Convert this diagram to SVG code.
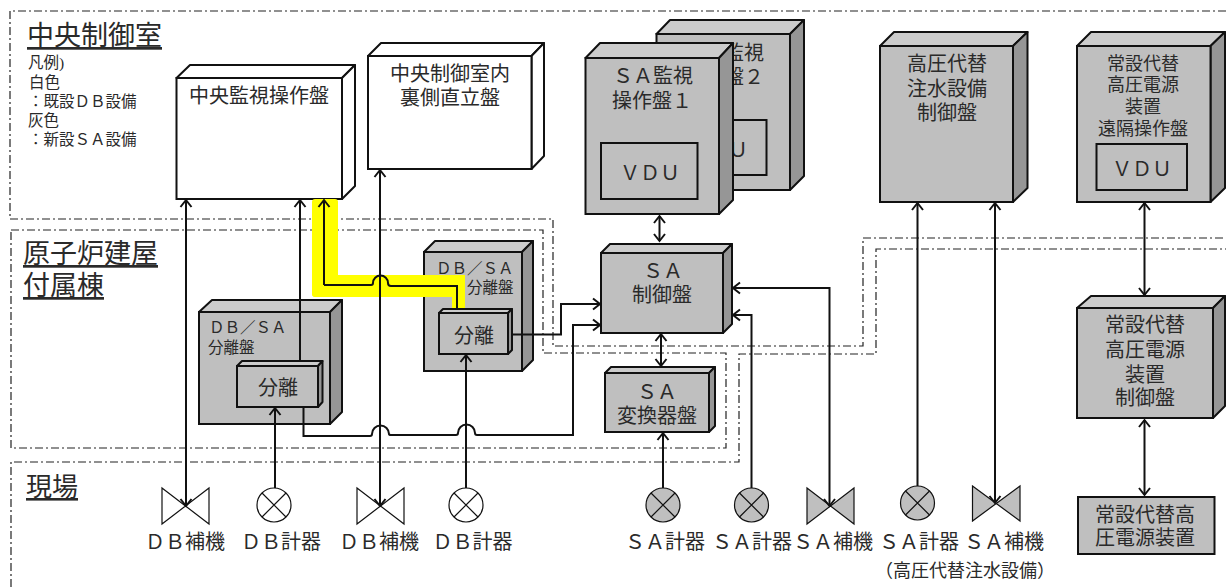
<svg xmlns="http://www.w3.org/2000/svg" width="1226" height="587" viewBox="0 0 1226 587">
<style>
text{font-family:"Liberation Serif","Noto Sans CJK JP",serif;fill:#2a2a2a;font-size:20px;text-anchor:middle}
.l{text-anchor:start}
.t{font-size:27px;text-anchor:start;text-decoration:underline}
.s{font-size:15.5px;text-anchor:start}
.m{font-size:15.5px;text-anchor:start}
.n{font-size:18px}
.f{fill:#bfbfbf;stroke:#111;stroke-width:2}
.u{fill:#cccccc;stroke:#111;stroke-width:2;stroke-linejoin:round}
.d{fill:#969696;stroke:#111;stroke-width:2;stroke-linejoin:round}
.w .f,.w .u,.w .d{fill:#fff}
.b{fill:none;stroke:#222;stroke-width:1.2;stroke-dasharray:8 3 2 3}
.c{fill:none;stroke:#111;stroke-width:2}
.a{marker-end:url(#h)}
.aa{marker-end:url(#h);marker-start:url(#h)}
.v{stroke:#111;stroke-width:1.2}
.wv{fill:#fff}.gv{fill:#bfbfbf}
.y{fill:#ffff00}
</style>
<defs>
<marker id="h" markerUnits="userSpaceOnUse" markerWidth="12" markerHeight="14" refX="9" refY="7" orient="auto-start-reverse">
<path d="M2 1.5L9 7L2 12.5" fill="none" stroke="#111" stroke-width="2"/>
</marker>
</defs>
<g id="boundaries">
<path class="b" d="M1226 11H10V219H553V346H863V238H1226"/>
<path class="b" d="M11 230H543V353H726V448H11Z"/>
<path class="b" d="M11 587V462H739V354H876V249H1226"/>
</g>
<g id="labels">
<text class="t" x="27" y="45">中央制御室</text>
<text class="t" x="23" y="263">原子炉建屋</text>
<text class="t" x="23" y="295">付属棟</text>
<text class="t" x="26" y="496" style="font-size:26px">現場</text>
</g>
<g id="legend">
<text class="s" x="28" y="68">凡例)</text>
<text class="s" x="29" y="88">白色</text>
<text class="s" x="28" y="107">：既設ＤＢ設備</text>
<text class="s" x="28" y="126">灰色</text>
<text class="s" x="28" y="145">：新設ＳＡ設備</text>
</g>
<g id="node-central" class="w">
<polygon class="u" points="176.500,78 190,65 355,65 342,78"/>
<polygon class="d" points="342,78 355,65 355,186 342,199"/>
<rect class="f" x="176.500" y="78" width="165.500" height="121"/>
<text x="259" y="103">中央監視操作盤</text>
</g>
<g id="node-rear" class="w">
<polygon class="u" points="368,56 381,43 544,43 531.500,56"/>
<polygon class="d" points="531.500,56 544,43 544,156 531.500,169"/>
<rect class="f" x="368" y="56" width="163.500" height="113"/>
<text x="450" y="81">中央制御室内</text>
<text x="450" y="105">裏側直立盤</text>
</g>
<g id="node-sa2">
<polygon class="u" points="656.500,34 670,20 804,20 790,34"/>
<polygon class="d" points="790,34 804,20 804,176 790,190"/>
<rect class="f" x="656.500" y="34" width="133.500" height="156"/>
<text x="724" y="60">ＳＡ監視</text>
<text x="724" y="84">操作盤２</text>
<rect class="f" x="670" y="120" width="96.500" height="55"/>
<text x="718" y="157">ＶＤＵ</text>
</g>
<g id="node-sa1">
<polygon class="u" points="585.500,58 600,43 733,43 719,58"/>
<polygon class="d" points="719,58 733,43 733,200 719,214"/>
<rect class="f" x="585.500" y="58" width="133.500" height="156"/>
<text x="653" y="83">ＳＡ監視</text>
<text x="652" y="108">操作盤１</text>
<rect class="f" x="601" y="143" width="96.500" height="56"/>
<text x="650" y="180">ＶＤＵ</text>
</g>
<g id="node-hp">
<polygon class="u" points="880,46 894,32 1027.500,32 1013,46"/>
<polygon class="d" points="1013,46 1027.500,32 1027.500,188 1013,202"/>
<rect class="f" x="880" y="46" width="133" height="156"/>
<text x="947" y="71">高圧代替</text>
<text x="947" y="96">注水設備</text>
<text x="947" y="120">制御盤</text>
</g>
<g id="node-remote">
<polygon class="u" points="1077,46 1091,32 1225,32 1210.500,46"/>
<polygon class="d" points="1210.500,46 1225,32 1225,188 1210.500,202"/>
<rect class="f" x="1077" y="46" width="133.500" height="156"/>
<text class="n" x="1143" y="69.500">常設代替</text>
<text class="n" x="1143" y="90.500">高圧電源</text>
<text class="n" x="1143" y="112.500">装置</text>
<text class="n" x="1143" y="134.500">遠隔操作盤</text>
<rect class="f" x="1096.500" y="144" width="90.500" height="46"/>
<text x="1142" y="176">ＶＤＵ</text>
</g>
<g id="node-sa-ctrl">
<polygon class="u" points="601,253 610,244 732,244 723,253"/>
<polygon class="d" points="723,253 732,244 732,324 723,333"/>
<rect class="f" x="601" y="253" width="122" height="80"/>
<text x="663" y="278">ＳＡ</text>
<text x="662" y="302">制御盤</text>
</g>
<g id="node-sa-conv">
<polygon class="u" points="605,373 611,367 715,367 709,373"/>
<polygon class="d" points="709,373 715,367 715,426 709,432"/>
<rect class="f" x="605" y="373" width="104" height="59"/>
<text x="657" y="399">ＳＡ</text>
<text x="657" y="423">変換器盤</text>
</g>
<g id="node-dbsa1">
<polygon class="u" points="199,312 212,300 342,300 330,312"/>
<polygon class="d" points="330,312 342,300 342,412 330,424"/>
<rect class="f" x="199" y="312" width="131" height="112"/>
<text class="m" x="209" y="333">ＤＢ／ＳＡ</text>
<text class="m" x="208" y="352.500">分離盤</text>
</g>
<g id="node-sep1">
<polygon class="u" points="237,366 242,361 322.500,361 318,366"/>
<polygon class="d" points="318,366 322.500,361 322.500,402 318,407"/>
<rect class="f" x="237" y="366" width="81" height="41"/>
<text x="278" y="395">分離</text>
</g>
<g id="node-dbsa2">
<polygon class="u" points="424,252 435,241 533,241 522,252"/>
<polygon class="d" points="522,252 533,241 533,360 522,371"/>
<rect class="f" x="424" y="252" width="98" height="119"/>
<text class="m" x="436" y="273.500">ＤＢ／ＳＡ</text>
<text class="m" x="467" y="292.500">分離盤</text>
</g>
<g id="highlight">
<rect class="y" x="312" y="199" width="26" height="98" rx="3"/>
<rect class="y" x="312" y="275" width="153" height="22" rx="4"/>
<rect class="y" x="452" y="275" width="13" height="35"/>
</g>
<g id="node-sep2">
<polygon class="u" points="439,313 443,309 512,309 508,313"/>
<polygon class="d" points="508,313 512,309 512,350 508,354"/>
<rect class="f" x="439" y="313" width="69" height="41"/>
<text x="474" y="343">分離</text>
</g>
<g id="node-ctrl">
<polygon class="u" points="1077,308 1091,296 1225,296 1213,308"/>
<polygon class="d" points="1213,308 1225,296 1225,406 1213,418"/>
<rect class="f" x="1077" y="308" width="136" height="110"/>
<text x="1145" y="332">常設代替</text>
<text x="1145" y="357">高圧電源</text>
<text x="1145" y="382">装置</text>
<text x="1145" y="405">制御盤</text>
</g>
<g id="node-power">
<rect class="f" x="1078" y="497" width="136.500" height="57"/>
<text x="1145" y="522">常設代替高</text>
<text x="1145" y="545">圧電源装置</text>
</g>
<g id="field-devices">
<polygon class="v wv" points="162,488 209,524 209,488 162,524"/>
<ellipse class="v wv" cx="274" cy="505" rx="17" ry="17"/>
<path class="v" d="M262 493L286 517M286 493L262 517"/>
<polygon class="v wv" points="357,488 404,524 404,488 357,524"/>
<ellipse class="v wv" cx="466" cy="505" rx="17" ry="17"/>
<path class="v" d="M454 493L478 517M478 493L454 517"/>
<ellipse class="v gv" cx="663" cy="505" rx="17" ry="17"/>
<path class="v" d="M651 493L675 517M675 493L651 517"/>
<ellipse class="v gv" cx="751.500" cy="505" rx="17" ry="17"/>
<path class="v" d="M739.500 493L763.500 517M763.500 493L739.500 517"/>
<polygon class="v gv" points="807,488 854,524 854,488 807,524"/>
<ellipse class="v gv" cx="917.500" cy="503" rx="17" ry="17"/>
<path class="v" d="M905.500 491L929.500 515M929.500 491L905.500 515"/>
<polygon class="v gv" points="972.500,486 1020,521 1020,486 972.500,521"/>
<text x="185" y="549">ＤＢ補機</text>
<text x="281" y="549">ＤＢ計器</text>
<text x="379" y="549">ＤＢ補機</text>
<text x="472.500" y="549">ＤＢ計器</text>
<text x="665" y="549">ＳＡ計器</text>
<text x="752" y="549">ＳＡ計器</text>
<text x="833" y="549">ＳＡ補機</text>
<text x="919" y="549">ＳＡ計器</text>
<text x="1004" y="549">ＳＡ補機</text>
<text class="n" x="965" y="577">（高圧代替注水設備）</text>
</g>
<g id="connectors">
<path class="c aa" d="M186 506V200"/>
<path class="c a" d="M300 361V200"/>
<path class="c a" d="M324 285V200"/>
<path class="c" d="M324 285H371Q373 285 373 283A7.500 7.500 0 0 1 388 283Q388 286 391 286H457V309"/>
<path class="c aa" d="M380 506V170"/>
<path class="c a" d="M275 488V408"/>
<path class="c a" d="M466 488V355"/>
<path class="c a" d="M303.500 407V436H370Q372 436 372 434A8.500 8.500 0 0 1 389 434Q389 435 391 435H456Q458 435 458 433A8.500 8.500 0 0 1 475 433Q475 435 477 435H573V325H600"/>
<path class="c a" d="M512 334.500H561V304H600"/>
<path class="c aa" d="M659.500 216V241"/>
<path class="c aa" d="M661 334V366"/>
<path class="c a" d="M663 488V433"/>
<path class="c a" d="M751.500 488V315H733"/>
<path class="c aa" d="M829.500 506V288H733"/>
<path class="c a" d="M917.500 486V203"/>
<path class="c aa" d="M995 503V203"/>
<path class="c aa" d="M1144.500 203V295"/>
<path class="c aa" d="M1144.500 420V495"/>
</g>
</svg>
